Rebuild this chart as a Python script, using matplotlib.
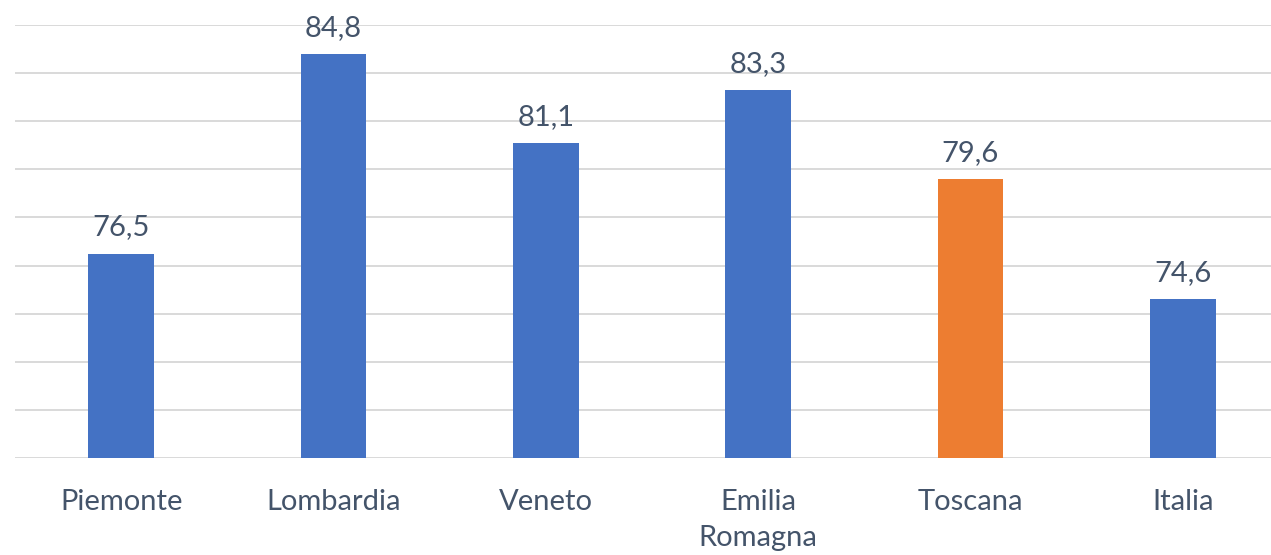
import matplotlib
matplotlib.use("Agg")
from matplotlib import pyplot as plt

# data
regions = ["Piemonte", "Lombardia", "Veneto", "Emilia\nRomagna", "Toscana", "Italia"]
values = [76.5, 84.8, 81.1, 83.3, 79.6, 74.6]
colors = ["#4472C4", "#4472C4", "#4472C4", "#4472C4", "#ED7D31", "#4472C4"]

text_col = "#44546A"
plt.rcParams['font.family'] = ['Lato', 'DejaVu Sans']

W, H = 1271, 555
fig = plt.figure(figsize=(W / 100, H / 100), dpi=100)
# axes runs off the right edge like the original crop
left, right = 15 / W, 1289 / W
bottom, top = 1 - 458 / H, 1 - 25 / H
ax = fig.add_axes([left, bottom, right - left, top - bottom])

x = list(range(len(regions)))
ax.bar(x, values, width=0.31, color=colors, zorder=3)

for xi, v in zip(x, values):
    ax.text(xi, v + 0.55, f"{v:.1f}".replace(".", ","), ha="center", va="bottom",
            fontsize=21, color=text_col)

ax.set_ylim(68, 86)
ax.set_xlim(-0.5, len(regions) - 0.5)
ax.set_yticks(range(68, 87, 2))
ax.yaxis.grid(True, color="#D9D9D9", linewidth=1.4, zorder=0)
ax.set_yticklabels([])
ax.tick_params(axis="y", length=0)
ax.tick_params(axis="x", length=0, pad=22)
ax.set_xticks(x)
ax.set_xticklabels(regions, fontsize=21, color=text_col, linespacing=1.5, va="top")
for s in ax.spines.values():
    s.set_visible(False)

fig.savefig("out.png", dpi=100)
